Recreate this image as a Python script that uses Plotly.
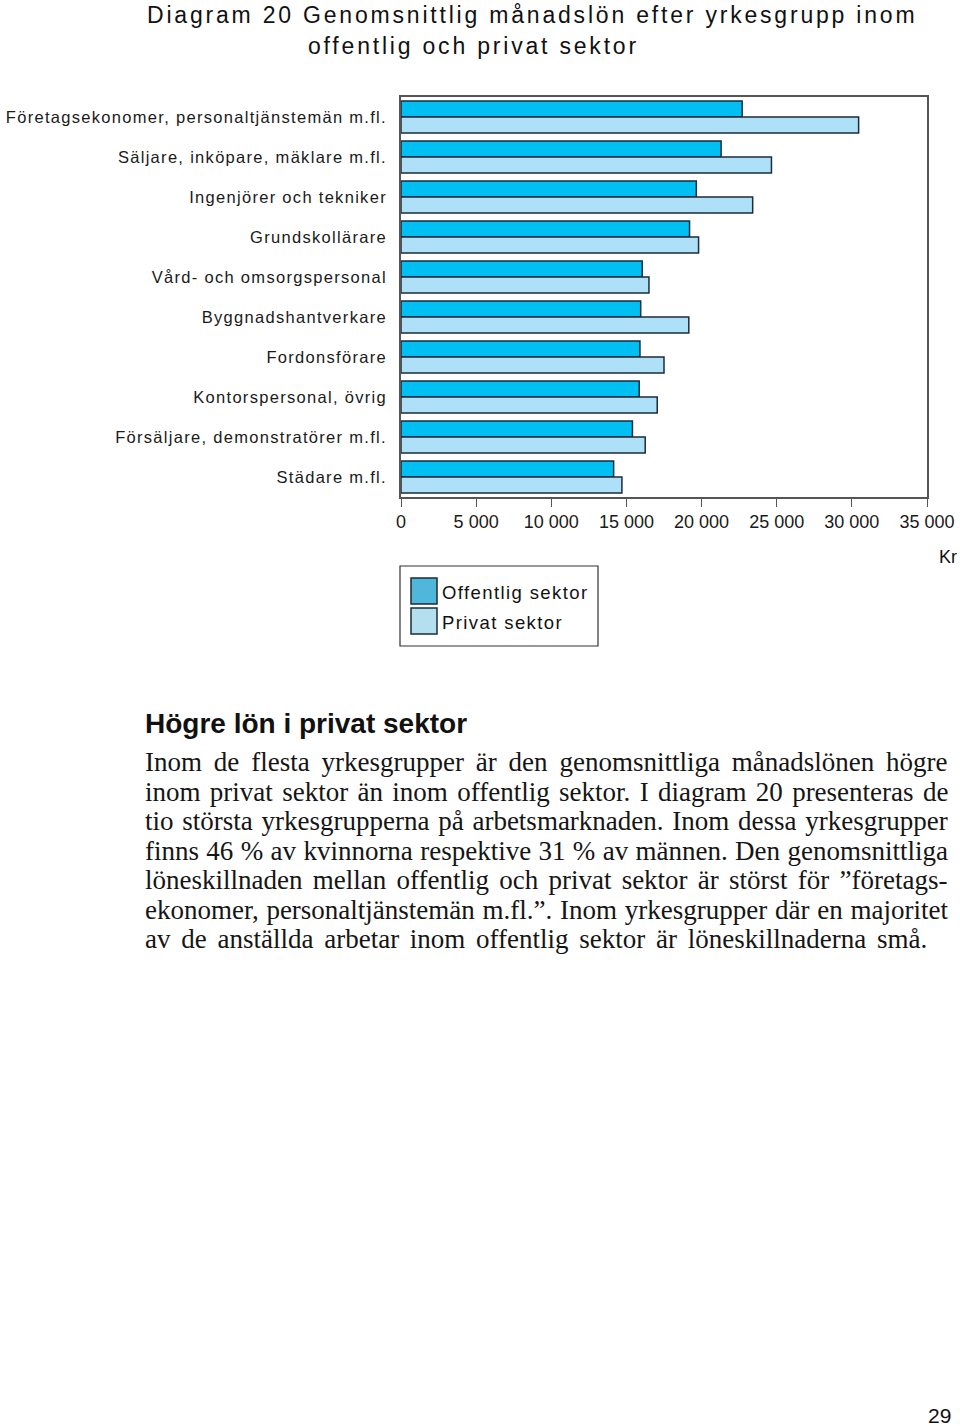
import plotly.graph_objects as go

categories = [
    "Företagsekonomer, personaltjänstemän m.fl.",
    "Säljare, inköpare, mäklare m.fl.",
    "Ingenjörer och tekniker",
    "Grundskollärare",
    "Vård- och omsorgspersonal",
    "Byggnadshantverkare",
    "Fordonsförare",
    "Kontorspersonal, övrig",
    "Försäljare, demonstratörer m.fl.",
    "Städare m.fl.",
]
offentlig = [22700, 21300, 19650, 19200, 16050, 15950, 15900, 15850, 15400, 14150]
privat = [30450, 24650, 23400, 19800, 16500, 19150, 17500, 17050, 16250, 14700]
tick_vals = [0, 5000, 10000, 15000, 20000, 25000, 30000, 35000]
tick_text = ["0", "5 000", "10 000", "15 000", "20 000", "25 000", "30 000", "35 000"]
series_names = ["Offentlig sektor", "Privat sektor"]

W, H = 960, 1426
L, R, T, B = 401, 927, 97, 497

def px(x, y):
    return (x - L) / (R - L), (B - y) / (B - T)

def spaced(s, ls=0, ws=0):
    return f'<span style="letter-spacing:{ls}px;word-spacing:{ws}px">{s}</span>'

C_OFF = "#00BFF2"
C_PRIV = "#AEE0F8"
EDGE = "#1d2b3a"
SANS = "Liberation Sans, Arial, sans-serif"
SERIF = "Liberation Serif, Times New Roman, serif"

fig = go.Figure()
fig.add_trace(go.Bar(y=categories, x=offentlig, orientation="h", name=series_names[0],
                     marker=dict(color=C_OFF, line=dict(color=EDGE, width=1.5)), showlegend=False))
fig.add_trace(go.Bar(y=categories, x=privat, orientation="h", name=series_names[1],
                     marker=dict(color=C_PRIV, line=dict(color=EDGE, width=1.5)), showlegend=False))

fig.update_layout(
    width=W, height=H,
    margin=dict(l=L, r=W - R, t=T, b=H - B, pad=0, autoexpand=False),
    paper_bgcolor="white", plot_bgcolor="white",
    barmode="group", bargap=0.2, bargroupgap=0,
    font=dict(family=SANS, color="#1a1a1a"),
)
fig.update_xaxes(range=[0, 35000], tickvals=tick_vals, ticktext=tick_text, automargin=False,
                 ticks="outside", ticklen=8, tickwidth=1.2, tickcolor="#555",
                 showline=True, linecolor="#555", linewidth=1.5, mirror=True,
                 showgrid=False, zeroline=False, tickfont=dict(size=18, family=SANS, color="#1a1a1a"))
fig.update_yaxes(autorange="reversed", showline=True, linecolor="#555", linewidth=1.5, mirror=True,
                 showgrid=False, ticks="", ticklabelstandoff=9, automargin=False,
                 tickvals=categories, ticktext=[spaced(c, 1.3) for c in categories],
                 tickfont=dict(size=16.5, family=SANS, color="#1a1a1a"))

ann = []
shapes = []

def text(x, y, s, size, family=SANS, anchor="left", color="#111"):
    a, b = px(x - 3 if anchor == "left" else x + 3, y)
    ann.append(dict(x=a, y=b, xref="paper", yref="paper", xanchor=anchor, yanchor="middle",
                    text=s, showarrow=False, font=dict(size=size, family=family, color=color)))

# Title
text(148, 15, spaced("Diagram 20 Genomsnittlig månadslön efter yrkesgrupp inom", 2.8), 23)
text(309, 46, spaced("offentlig och privat sektor", 2.8), 23)

# Kr
text(956, 557, "Kr", 18, anchor="right")

# Legend
a, b = px(400, 566)
c, d = px(598, 646)
shapes.append(dict(type="rect", xref="paper", yref="paper", x0=a, y0=b, x1=c, y1=d,
                   line=dict(color="#333", width=1.2), fillcolor="white"))
for i, (name, col) in enumerate(zip(series_names, ["#4FB7D9", "#B3DFEF"])):
    top = 578 + i * 30
    a, b = px(411, top)
    c, d = px(437, top + 26)
    shapes.append(dict(type="rect", xref="paper", yref="paper", x0=a, y0=b, x1=c, y1=d,
                       line=dict(color="#1d2b3a", width=1.5), fillcolor=col))
    text(443, top + 14, spaced(name, 1.4), 18.5)

# Text section
text(146, 723, "<b>Högre lön i privat sektor</b>", 28)
body = [
    "Inom de flesta yrkesgrupper är den genomsnittliga månadslönen högre",
    "inom privat sektor än inom offentlig sektor. I diagram 20 presenteras de",
    "tio största yrkesgrupperna på arbetsmarknaden. Inom dessa yrkesgrupper",
    "finns 46 % av kvinnorna respektive 31 % av männen. Den genomsnittliga",
    "löneskillnaden mellan offentlig och privat sektor är störst för ”företags-",
    "ekonomer, personaltjänstemän m.fl.”. Inom yrkesgrupper där en majoritet",
    "av de anställda arbetar inom offentlig sektor är löneskillnaderna små.",
]
word_gap = [5.1, 2.6, 2.0, 0.6, 3.5, 1.0, 4.0]
for i, line in enumerate(body):
    text(146, 762 + i * 29.5, spaced(line, 0, word_gap[i]), 27, family=SERIF, color="#151515")

# page number
text(950, 1415, "29", 21, anchor="right")

fig.update_layout(annotations=ann, shapes=shapes)
# remove the default 8px page margin so the figure fills the window exactly
fig.write_html("out.html", config={"displayModeBar": False},
               post_script="document.body.style.margin='0';")
